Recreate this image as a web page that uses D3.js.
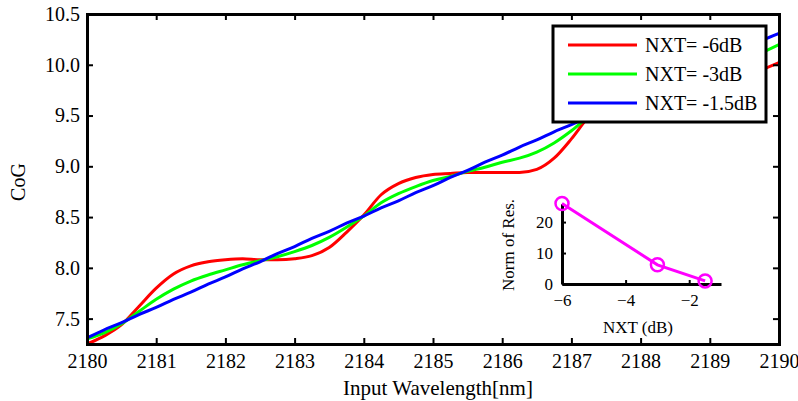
<!DOCTYPE html>
<html>
<head>
<meta charset="utf-8">
<script src="https://cdn.jsdelivr.net/npm/d3@7"></script>
<style>
  body { margin: 0; background: #fff; }
  svg { display: block; font-family: "Liberation Serif", "Times New Roman", serif; }
  .axis text { font-size: 20px; fill: #000; }
  .axis path, .axis line { stroke: #000; }
  .inset text { font-size: 17px; fill: #000; }
</style>
</head>
<body>
<div id="chart-container"></div>
<script>
// wavelength samples (nm)
const wavelength = [2180, 2180.25, 2180.5, 2180.75, 2181, 2181.25, 2181.5, 2181.75, 2182, 2182.25,
  2182.5, 2182.75, 2183, 2183.25, 2183.5, 2183.75, 2184, 2184.25, 2184.5, 2184.75,
  2185, 2185.25, 2185.5, 2185.75, 2186, 2186.25, 2186.5, 2186.75, 2187, 2187.25,
  2187.5, 2187.75, 2188, 2188.25, 2188.5, 2188.75, 2189, 2189.25, 2189.5, 2189.75, 2190]

const cogMinus6 = [7.25, 7.33, 7.44, 7.62, 7.80, 7.94, 8.02, 8.06, 8.08, 8.09,
  8.08, 8.08, 8.09, 8.12, 8.20, 8.35, 8.52, 8.72, 8.83, 8.89,
  8.92, 8.93, 8.94, 8.94, 8.94, 8.94, 8.97, 9.08, 9.27, 9.49,
  9.65, 9.74, 9.78, 9.80, 9.81, 9.81, 9.82, 9.84, 9.89, 9.95, 10.02]

const cogMinus3 = [7.30, 7.36, 7.45, 7.57, 7.69, 7.79, 7.87, 7.93, 7.98, 8.03,
  8.07, 8.11, 8.16, 8.22, 8.30, 8.40, 8.51, 8.64, 8.73, 8.80,
  8.86, 8.90, 8.95, 8.99, 9.04, 9.08, 9.14, 9.23, 9.35, 9.49,
  9.60, 9.68, 9.74, 9.79, 9.84, 9.88, 9.93, 9.98, 10.05, 10.12, 10.20]

const cogMinus15 = [7.31, 7.39, 7.46, 7.54, 7.61, 7.69, 7.76, 7.84, 7.91, 7.99,
  8.06, 8.14, 8.21, 8.29, 8.36, 8.44, 8.51, 8.59, 8.66, 8.74,
  8.81, 8.89, 8.96, 9.04, 9.11, 9.19, 9.26, 9.34, 9.41, 9.49,
  9.56, 9.64, 9.71, 9.79, 9.86, 9.94, 10.01, 10.09, 10.16, 10.24, 10.31]

const seriesNames = ['NXT= -6dB', 'NXT= -3dB', 'NXT= -1.5dB']
const seriesColors = ['#ff0000', '#00ff00', '#0000ff']

const xTicks = [2180, 2181, 2182, 2183, 2184, 2185, 2186, 2187, 2188, 2189, 2190]
const yTicks = [7.5, 8.0, 8.5, 9.0, 9.5, 10.0, 10.5]

// inset: norm of residuals vs NXT
const nxtLevels = [-6, -3, -1.5]
const normRes = [26, 6.2, 1.0]
const insetXTicks = [-6, -4, -2]
const insetYTicks = [0, 10, 20]

const W = 798, H = 401
const margin = {top: 14, right: 19, bottom: 57, left: 87}
const width = W - margin.left - margin.right
const height = H - margin.top - margin.bottom

const svg = d3.select('#chart-container')
  .append('svg')
  .attr('width', W)
  .attr('height', H)

const g = svg.append('g')
  .attr('transform', `translate(${margin.left}, ${margin.top})`)

const x = d3.scaleLinear().domain([2180, 2190]).range([0, width])
const y = d3.scaleLinear().domain([7.25, 10.5]).range([height, 0])

g.append('clipPath').attr('id', 'plot-clip')
  .append('rect').attr('width', width).attr('height', height)

// curves
const series = [cogMinus6, cogMinus3, cogMinus15]
const line = d3.line()
  .x(d => x(d[0]))
  .y(d => y(d[1]))
  .curve(d3.curveMonotoneX)

const curves = g.append('g').attr('clip-path', 'url(#plot-clip)')
series.forEach((vals, i) => {
  curves.append('path')
    .datum(wavelength.map((w, j) => [w, vals[j]]))
    .attr('fill', 'none')
    .attr('stroke', seriesColors[i])
    .attr('stroke-width', 3)
    .attr('stroke-linejoin', 'round')
    .attr('d', line)
})

// axes (box with inward ticks)
const axBottom = g.append('g').attr('class', 'axis')
  .attr('transform', `translate(0,${height})`)
  .call(d3.axisBottom(x).tickValues(xTicks).tickSize(-6).tickPadding(10).tickFormat(d3.format('d')))
const axTop = g.append('g').attr('class', 'axis')
  .call(d3.axisTop(x).tickValues(xTicks).tickSize(-6).tickFormat(''))
const axLeft = g.append('g').attr('class', 'axis')
  .call(d3.axisLeft(y).tickValues(yTicks).tickSize(-6).tickPadding(7).tickFormat(d3.format('.1f')))
const axRight = g.append('g').attr('class', 'axis')
  .attr('transform', `translate(${width},0)`)
  .call(d3.axisRight(y).tickValues(yTicks).tickSize(-6).tickFormat(''))

;[axBottom, axTop, axLeft, axRight].forEach(a => {
  a.select('.domain').attr('stroke-width', 3)
  a.selectAll('.tick line').attr('stroke-width', 2)
})
g.selectAll('.axis').attr('font-family', null).attr('font-size', null)

// axis titles
g.append('text')
  .attr('x', width / 2 + 5)
  .attr('y', height + 51)
  .attr('text-anchor', 'middle')
  .attr('font-size', 21)
  .text('Input Wavelength[nm]')

g.append('text')
  .attr('transform', `translate(${-62},${height / 2 + 3}) rotate(-90)`)
  .attr('text-anchor', 'middle')
  .attr('font-size', 20)
  .text('CoG')

// legend
const legend = svg.append('g').attr('transform', 'translate(553,26)')
legend.append('rect')
  .attr('width', 213).attr('height', 96)
  .attr('fill', '#fff').attr('stroke', '#000').attr('stroke-width', 3)
seriesNames.forEach((name, i) => {
  const yy = 19 + i * 29
  legend.append('line')
    .attr('x1', 15).attr('x2', 84).attr('y1', yy).attr('y2', yy)
    .attr('stroke', seriesColors[i]).attr('stroke-width', 3)
  legend.append('text')
    .attr('x', 92).attr('y', yy + 7)
    .attr('font-size', 20)
    .text(name)
})

// inset
const ix = d3.scaleLinear().domain([-6, -1]).range([562, 721])
const iy = d3.scaleLinear().domain([0, 26]).range([284, 203.5])
const inset = svg.append('g').attr('class', 'inset')

inset.append('g').attr('class', 'axis')
  .attr('transform', 'translate(0,284)')
  .call(d3.axisBottom(ix).tickValues(insetXTicks).tickSize(-4).tickPadding(10).tickSizeOuter(0).tickFormat(d3.format('d')))
inset.append('g').attr('class', 'axis')
  .attr('transform', 'translate(562,0)')
  .call(d3.axisLeft(iy).tickValues(insetYTicks).tickSize(-4).tickPadding(9).tickSizeOuter(0).tickFormat(d3.format('d')))

inset.selectAll('.axis').attr('font-family', null)
inset.selectAll('.axis .domain').attr('stroke-width', 3)
inset.selectAll('.axis .tick line').attr('stroke-width', 2)
inset.selectAll('.axis text').attr('font-size', 17)

inset.append('text')
  .attr('x', 638).attr('y', 333)
  .attr('text-anchor', 'middle')
  .attr('font-size', 17)
  .text('NXT (dB)')
inset.append('text')
  .attr('transform', 'translate(514,245) rotate(-90)')
  .attr('text-anchor', 'middle')
  .attr('font-size', 17)
  .text('Norm of Res.')

const insetPts = nxtLevels.map((n, i) => [n, normRes[i]])
inset.append('path')
  .datum(insetPts)
  .attr('fill', 'none')
  .attr('stroke', '#ff00ff')
  .attr('stroke-width', 3)
  .attr('d', d3.line().x(d => ix(d[0])).y(d => iy(d[1])))
inset.selectAll('circle')
  .data(insetPts)
  .join('circle')
  .attr('cx', d => ix(d[0]))
  .attr('cy', d => iy(d[1]))
  .attr('r', 6.5)
  .attr('fill', 'none')
  .attr('stroke', '#ff00ff')
  .attr('stroke-width', 2.5)
</script>
</body>
</html>
